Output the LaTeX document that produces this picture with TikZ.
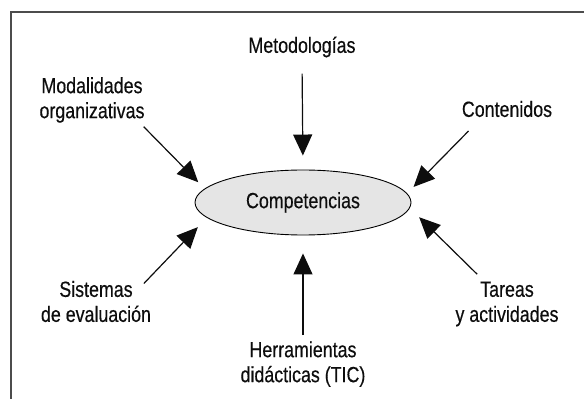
\documentclass[tikz,border=0pt]{standalone}
\usepackage{fontspec}
\setmainfont{Liberation Sans}[FakeStretch=0.81,FakeBold=0.4]
\usetikzlibrary{arrows.meta}
\usetikzlibrary{shapes.geometric}

\begin{document}
\begin{tikzpicture}[x=1pt,y=1pt,
        lbl/.style={inner sep=3pt, align=center, text=black!95,
            font=\fontsize{22}{25}\selectfont},
        arr/.style={-{Triangle[length=21pt,width=19pt]}, line width=1.2pt,
            black!95}]
        \useasboundingbox (0,0) rectangle (584,399);
        % open frame
        \draw[line width=1.5pt, black!70] (584,387) -- (11,387) -- (11,0);

        \node[lbl, ellipse, draw, fill=black!10, line width=0.9pt,
            minimum width=216pt, minimum height=65pt, inner sep=0pt] (comp)
            at (303,196.5) {Competencias};

        \node[lbl] (met) at (302,352) {Metodologías};
        \node[lbl] (mod) at (92,299) {Modalidades\\organizativas};
        \node[lbl] (con) at (507,290) {Contenidos};
        \node[lbl] (sis) at (96,97.5) {Sistemas\\de evaluación};
        \node[lbl] (tar) at (507,95) {Tareas\\y actividades};
        \node[lbl] (her) at (303,35) {Herramientas\\didácticas (TIC)};

        \draw[arr, shorten <=13pt, shorten >=14pt] (met.south) -- (comp.north);
        \draw[arr, shorten <=3pt, shorten >=18pt] (her.north) -- (comp.south);
        \draw[arr, shorten <=1pt, shorten >=9pt] (mod.-27) -- (comp.172);
        \draw[arr, shorten <=15pt, shorten >=9pt] (con.202) -- (comp.5);
        \draw[arr, shorten <=-8pt, shorten >=13pt] (sis.24) -- (comp.189.5);
        \draw[arr, shorten <=6pt, shorten >=13pt] (tar.135) -- (comp.-3);
\end{tikzpicture}
\end{document}
